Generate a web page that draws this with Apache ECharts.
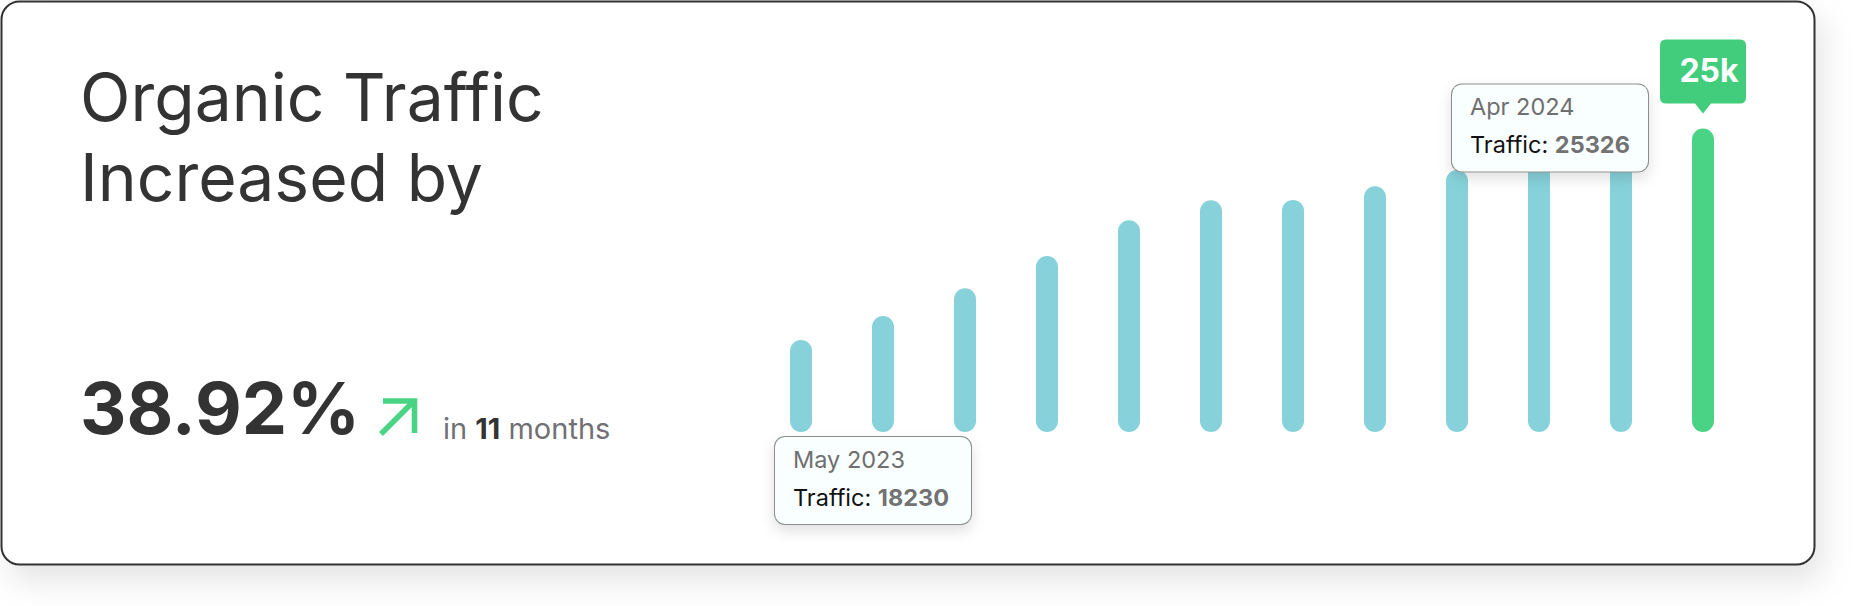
<!DOCTYPE html>
<html>
<head>
<meta charset="utf-8">
<title>Organic Traffic</title>
<script src="https://cdn.jsdelivr.net/npm/echarts@6/dist/echarts.min.js"></script>
<style>
  html, body { margin: 0; padding: 0; background: #fff; }
  #chart { width: 1856px; height: 606px; }
</style>
</head>
<body>
<div id="chart"></div>
<script>
// monthly organic traffic, May 2023 .. Apr 2024
const months = ["May 2023", "Jun 2023", "Jul 2023", "Aug 2023", "Sep 2023", "Oct 2023",
  "Nov 2023", "Dec 2023", "Jan 2024", "Feb 2024", "Mar 2024", "Apr 2024"];
const traffic = [18230, 19040, 19970, 21050, 22250, 22920, 22930, 23390, 23930, 24480, 24860, 25326];

const FONT = 'Inter, "Noto Sans", sans-serif';
const last = traffic.length - 1;
const growth = ((traffic[last] / traffic[0] - 1) * 100).toFixed(2) + "%";
const peak = Math.round(traffic[last] / 1000) + "k";

// the little white tooltip-looking boxes
const boxRich = {
  t: { fontFamily: FONT, fontSize: 23.5, color: "#6f6f6f", lineHeight: 38, align: "left" },
  k: { fontFamily: FONT, fontSize: 23.5, color: "#111", lineHeight: 38, align: "left" },
  v: { fontFamily: FONT, fontSize: 23.5, color: "#727272", fontWeight: "bold", lineHeight: 38, align: "left" }
};
const boxLabel = (i) => ({
  show: true,
  formatter: `{t|${months[i]}}\n{k|Traffic: }{v|${traffic[i]}}`,
  width: 160,
  backgroundColor: "#f9fefe",
  borderColor: "#8e8e8e",
  borderWidth: 1,
  borderRadius: 10,
  padding: [3, 18, 8, 18],
  shadowColor: "rgba(0,0,0,0.12)",
  shadowBlur: 14,
  shadowOffsetY: 6,
  rich: boxRich
});

const chart = echarts.init(document.getElementById("chart"), null, { renderer: "svg" });

const option = {
  animation: false,
  graphic: [
    {
      type: "rect",
      z: 0,
      shape: { x: 1.5, y: 1.5, width: 1813, height: 563, r: 18 },
      style: {
        fill: "#fff", stroke: "#303030", lineWidth: 2,
        shadowBlur: 30, shadowOffsetX: 8, shadowOffsetY: 16, shadowColor: "rgba(0,0,0,0.10)"
      }
    },
    {
      type: "group",
      z: 10,
      children: [
        { type: "polyline", shape: { points: [[381, 434], [414, 401]] },
          style: { stroke: "#48d483", lineWidth: 5.5, fill: null } },
        { type: "polyline", shape: { points: [[383, 401], [414.5, 401], [414.5, 433]] },
          style: { stroke: "#48d483", lineWidth: 5.5, fill: null } }
      ]
    }
  ],
  title: [
    {
      text: "Organic Traffic\nIncreased by",
      left: 80, top: 57, padding: 0,
      textStyle: { fontFamily: FONT, fontSize: 66, fontWeight: "normal", color: "#333", lineHeight: 80 }
    },
    {
      text: growth,
      left: 80, top: 362, padding: 0,
      textStyle: { fontFamily: FONT, fontSize: 72, fontWeight: "bold", color: "#333", lineHeight: 90 }
    },
    {
      text: `in {b|${last}} months`,
      left: 443, top: 410, padding: 0,
      textStyle: {
        fontFamily: FONT, fontSize: 29, fontWeight: "normal", color: "#707075", lineHeight: 36,
        rich: { b: { fontFamily: FONT, fontSize: 29, fontWeight: "bold", color: "#333", lineHeight: 36 } }
      }
    }
  ],
  grid: { left: 760, right: 112, top: 74, bottom: 174 },
  xAxis: { type: "category", data: months, show: false },
  yAxis: { type: "value", min: 15150, max: 27150, show: false },
  series: [
    {
      type: "bar",
      barWidth: 22,
      itemStyle: { borderRadius: 11, color: "#87d2da" },
      emphasis: { disabled: true },
      data: traffic.map((v, i) => {
        const d = { value: v };
        if (i === last) d.itemStyle = { color: "#4ad384" };
        if (i === 0) d.label = Object.assign(boxLabel(i), { position: "bottom", distance: 5, offset: [72, 0] });
        if (i === last) d.label = Object.assign(boxLabel(i), { position: "top", distance: 0, offset: [-153, 43] });
        return d;
      }),
      markPoint: {
        symbol: "path://M6,0 H80 Q86,0 86,6 V58 Q86,64 80,64 H51 L43,74 L35,64 H6 Q0,64 0,58 V6 Q0,0 6,0 Z",
        symbolSize: [86, 74],
        symbolOffset: [0, -52],
        itemStyle: { color: "#41cd7c" },
        label: {
          show: true, formatter: peak, color: "#fff",
          fontFamily: FONT, fontSize: 32, fontWeight: "bold", offset: [6, -6]
        },
        emphasis: { disabled: true },
        data: [{ coord: [months[last], traffic[last]] }]
      }
    }
  ]
};

chart.setOption(option);
</script>
</body>
</html>
